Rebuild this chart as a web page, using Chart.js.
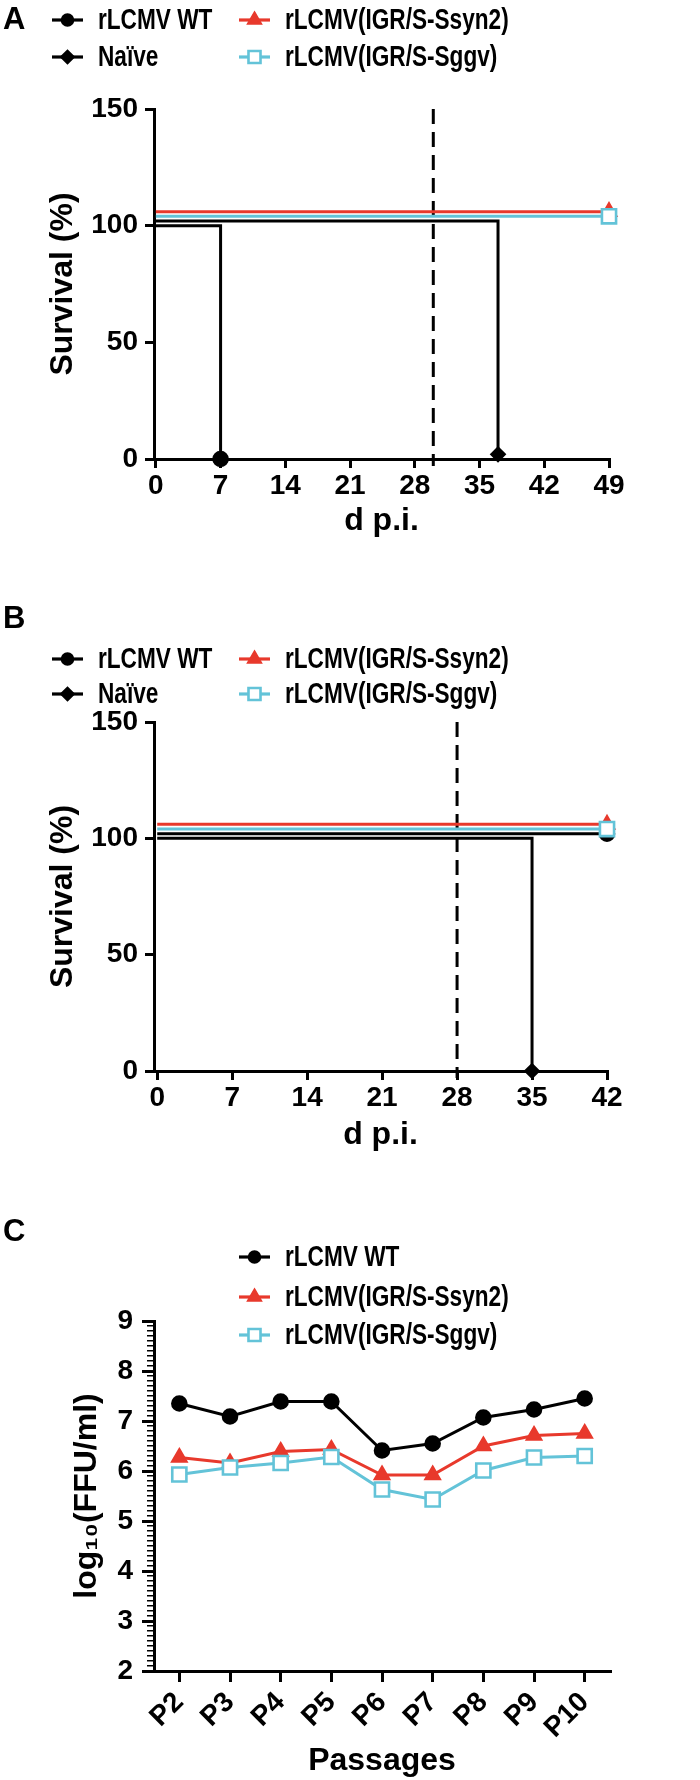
<!DOCTYPE html>
<html>
<head>
<meta charset="utf-8">
<script src="https://cdn.jsdelivr.net/npm/chart.js@4.4.1/dist/chart.umd.min.js"></script>
<style>
  html, body { margin: 0; padding: 0; background: #fff; }
  #page { position: relative; width: 700px; height: 1780px; }
  canvas { display: block; position: absolute; left: 0; }
</style>
</head>
<body>
<div id="page">
  <canvas id="chartA" width="700" height="560" style="top:0"></canvas>
  <canvas id="chartB" width="700" height="600" style="top:560px"></canvas>
  <canvas id="chartC" width="700" height="620" style="top:1160px"></canvas>
</div>
<script>
// series names
const seriesNames = ['rLCMV WT', 'Naïve', 'rLCMV(IGR/S-Ssyn2)', 'rLCMV(IGR/S-Sggv)'];

// panel A - survival, days p.i. vs % (curves offset by the graph so they don't overlap)
const daysWtA = [0, 7];
const survWtA = [100, 0];
const daysNaiveA = [0, 37];
const survNaiveA = [102, 2];
const daysSsyn2A = [0, 49];
const survSsyn2A = [106, 106];
const daysSggvA = [0, 49];
const survSggvA = [104, 104];
const cutoffDayA = 30;
const dayTicksA = [0, 7, 14, 21, 28, 35, 42, 49];

// panel B
const daysWtB = [0, 42];
const survWtB = [102, 102];
const daysNaiveB = [0, 35];
const survNaiveB = [100, 0];
const daysSsyn2B = [0, 42];
const survSsyn2B = [106, 106];
const daysSggvB = [0, 42];
const survSggvB = [104, 104];
const cutoffDayB = 28;
const dayTicksB = [0, 7, 14, 21, 28, 35, 42];

const cutoffSpan = [150, -3];
const survivalTicks = [0, 50, 100, 150];

// panel C - titers per passage
const passages = ['P2', 'P3', 'P4', 'P5', 'P6', 'P7', 'P8', 'P9', 'P10'];
const titerWt = [7.35, 7.09, 7.39, 7.39, 6.41, 6.55, 7.07, 7.23, 7.45];
const titerSsyn2 = [6.27, 6.16, 6.39, 6.43, 5.92, 5.92, 6.50, 6.71, 6.75];
const titerSggv = [5.93, 6.07, 6.16, 6.28, 5.63, 5.43, 6.01, 6.27, 6.30];
const titerTicks = [2, 3, 4, 5, 6, 7, 8, 9];

const FONT = '"Liberation Sans", Arial, Helvetica, sans-serif';
const BLACK = '#000000';
const RED = '#E8392C';
const CYAN = '#63C3D8';
const LW = 3;
const tickFont = { family: FONT, size: 28, weight: 'bold' };
const titleFont = { family: FONT, size: 32, weight: 'bold' };

// legend + panel letter, drawn on the chart canvas
const panelLegend = {
  id: 'panelLegend',
  afterDraw(chart, args, opts) {
    if (!opts.items) return;
    const ctx = chart.ctx;
    ctx.save();
    ctx.fillStyle = BLACK;
    ctx.font = `bold 31px ${FONT}`;
    ctx.textBaseline = 'alphabetic';
    ctx.fillText(opts.letter, opts.letterX, opts.letterY);

    ctx.font = `bold 29px ${FONT}`;
    ctx.textBaseline = 'middle';
    opts.items.forEach(item => {
      const ds = chart.data.datasets[item.index];
      ctx.setLineDash([]);
      ctx.lineWidth = 3.2;
      ctx.strokeStyle = ds.borderColor;
      ctx.beginPath();
      ctx.moveTo(item.x, item.y);
      ctx.lineTo(item.x + 31, item.y);
      ctx.stroke();
      ctx.lineWidth = 2.6;
      ctx.fillStyle = ds.pointBackgroundColor;
      ctx.strokeStyle = ds.pointBorderColor;
      Chart.helpers.drawPoint(ctx, {
        pointStyle: ds.pointStyle, radius: ds.legendRadius,
        borderWidth: ds.pointBorderWidth, rotation: 0
      }, item.x + 15.5, item.y);
      ctx.fillStyle = BLACK;
      ctx.save();
      ctx.translate(item.x + 46, item.y + 1);
      ctx.scale(0.78, 1);
      ctx.fillText(ds.label, 0, 0);
      ctx.restore();
    });
    ctx.restore();
  }
};

const toXY = (xs, ys) => xs.map((x, i) => ({ x: x, y: ys[i] }));

const styles = [
  { color: BLACK, pointStyle: 'circle', radius: 7, legendRadius: 5.5, fill: BLACK },
  { color: BLACK, pointStyle: 'rectRot', radius: 6.5, legendRadius: 6, fill: BLACK },
  { color: RED, pointStyle: 'triangle', radius: 8, legendRadius: 7, fill: RED },
  { color: CYAN, pointStyle: 'rect', radius: 10, legendRadius: 8.5, fill: '#ffffff' }
];

function survivalSet(i, xs, ys, order) {
  const s = styles[i];
  return {
    label: seriesNames[i],
    data: toXY(xs, ys),
    stepped: 'before',
    borderColor: s.color,
    borderWidth: LW,
    pointStyle: s.pointStyle,
    pointRadius: xs.map((x, k) => (k === xs.length - 1 ? s.radius : 0)),
    pointBackgroundColor: s.fill,
    pointBorderColor: s.color,
    pointBorderWidth: 2.6,
    legendRadius: s.legendRadius,
    clip: false,
    order: order
  };
}

function cutoffSet(day) {
  return {
    label: 'cutoff',
    data: cutoffSpan.map(v => ({ x: day, y: v })),
    borderColor: BLACK,
    borderWidth: LW,
    borderDash: [15, 8],
    pointRadius: 0,
    clip: false,
    order: 10
  };
}

function survivalChart(id, p) {
  return new Chart(document.getElementById(id), {
    type: 'line',
    data: { datasets: p.datasets },
    plugins: [panelLegend],
    options: {
      responsive: false,
      animation: false,
      events: [],
      layout: { padding: { left: 0, top: p.top, right: 700 - p.right, bottom: 0 } },
      plugins: {
        legend: { display: false },
        tooltip: { enabled: false },
        panelLegend: p.legend
      },
      scales: {
        x: {
          type: 'linear',
          min: p.xMin,
          max: p.xMax,
          afterBuildTicks: s => { s.ticks = p.xTicks.map(v => ({ value: v })); },
          afterFit: s => { s.height = p.height - p.bottom; },
          grid: { drawOnChartArea: false, color: BLACK, lineWidth: LW, tickLength: 9 },
          border: { color: BLACK, width: LW },
          ticks: { color: BLACK, font: tickFont, padding: 1, maxRotation: 0, autoSkip: false },
          title: { display: true, text: 'd p.i.', color: BLACK, font: titleFont, padding: { top: 0, bottom: p.xTitlePad } }
        },
        y: {
          min: 0,
          max: 150,
          afterBuildTicks: s => { s.ticks = survivalTicks.map(v => ({ value: v })); },
          afterFit: s => { s.width = 154; },
          grid: { drawOnChartArea: false, color: BLACK, lineWidth: LW, tickLength: 9 },
          border: { color: BLACK, width: LW },
          ticks: { color: BLACK, font: tickFont, padding: 7 },
          title: { display: true, text: 'Survival (%)', color: BLACK, font: titleFont, padding: { top: 44, bottom: 0 } }
        }
      }
    }
  });
}

// Panel A
survivalChart('chartA', {
  height: 560, top: 109, bottom: 459, right: 609,
  xMin: -0.2, xMax: 49, xTicks: dayTicksA, xTitlePad: 20,
  datasets: [
    survivalSet(0, daysWtA, survWtA, 3),
    survivalSet(1, daysNaiveA, survNaiveA, 2),
    survivalSet(2, daysSsyn2A, survSsyn2A, 1),
    survivalSet(3, daysSggvA, survSggvA, 0),
    cutoffSet(cutoffDayA)
  ],
  legend: {
    letter: 'A', letterX: 3, letterY: 29,
    items: [
      { index: 0, x: 52, y: 20 },
      { index: 1, x: 52, y: 57 },
      { index: 2, x: 239, y: 20 },
      { index: 3, x: 239, y: 57 }
    ]
  }
});

// Panel B
survivalChart('chartB', {
  height: 600, top: 162, bottom: 511, right: 607,
  xMin: -0.3, xMax: 42, xTicks: dayTicksB, xTitlePad: 6,
  datasets: [
    survivalSet(0, daysWtB, survWtB, 3),
    survivalSet(1, daysNaiveB, survNaiveB, 2),
    survivalSet(2, daysSsyn2B, survSsyn2B, 1),
    survivalSet(3, daysSggvB, survSggvB, 0),
    cutoffSet(cutoffDayB)
  ],
  legend: {
    letter: 'B', letterX: 3, letterY: 68,
    items: [
      { index: 0, x: 52, y: 99 },
      { index: 1, x: 52, y: 134 },
      { index: 2, x: 239, y: 99 },
      { index: 3, x: 239, y: 134 }
    ]
  }
});

// Panel C
function titerSet(i, values, order) {
  const s = styles[i];
  return {
    label: seriesNames[i],
    data: values,
    borderColor: s.color,
    borderWidth: LW,
    pointStyle: s.pointStyle,
    pointRadius: s.radius,
    pointBackgroundColor: s.fill,
    pointBorderColor: s.color,
    pointBorderWidth: 2.6,
    legendRadius: s.legendRadius,
    tension: 0,
    clip: false,
    order: order
  };
}

new Chart(document.getElementById('chartC'), {
  type: 'line',
  data: {
    labels: passages,
    datasets: [
      titerSet(0, titerWt, 2),
      titerSet(2, titerSsyn2, 1),
      titerSet(3, titerSggv, 0)
    ]
  },
  plugins: [panelLegend],
  options: {
    responsive: false,
    animation: false,
    events: [],
    layout: { padding: { left: 0, top: 161, right: 90, bottom: 0 } },
    plugins: {
      legend: { display: false },
      tooltip: { enabled: false },
      panelLegend: {
        letter: 'C', letterX: 3, letterY: 81,
        items: [
          { index: 0, x: 239, y: 97 },
          { index: 1, x: 239, y: 137 },
          { index: 2, x: 239, y: 175 }
        ]
      }
    },
    scales: {
      x: {
        type: 'category',
        offset: true,
        afterFit: s => { s.height = 620 - 511; },
        grid: { offset: false, drawOnChartArea: false, color: BLACK, lineWidth: LW, tickLength: 11 },
        border: { color: BLACK, width: LW },
        ticks: { color: BLACK, font: tickFont, padding: 4, minRotation: 45, maxRotation: 45, autoSkip: false },
        title: { display: true, text: 'Passages', color: BLACK, font: titleFont, padding: { top: 0, bottom: 0 } }
      },
      y: {
        min: 2,
        max: 9,
        weight: 1,
        afterBuildTicks: s => { s.ticks = titerTicks.map(v => ({ value: v })); },
        afterFit: s => { s.width = 154; },
        grid: { drawOnChartArea: false, color: BLACK, lineWidth: LW, tickLength: 12 },
        border: { color: BLACK, width: LW },
        ticks: { color: BLACK, font: tickFont, padding: 9 },
        title: { display: true, text: 'log₁₀(FFU/ml)', color: BLACK, font: titleFont, padding: { top: 68, bottom: 0 } }
      },
      yMinor: {
        position: 'left',
        min: 2,
        max: 9,
        weight: 0,
        afterFit: s => { s.width = 0; },
        grid: { drawOnChartArea: false, color: BLACK, lineWidth: 1.5, tickLength: 7 },
        border: { display: false },
        ticks: { display: false, stepSize: 0.1, autoSkip: false }
      }
    }
  }
});
</script>
</body>
</html>
